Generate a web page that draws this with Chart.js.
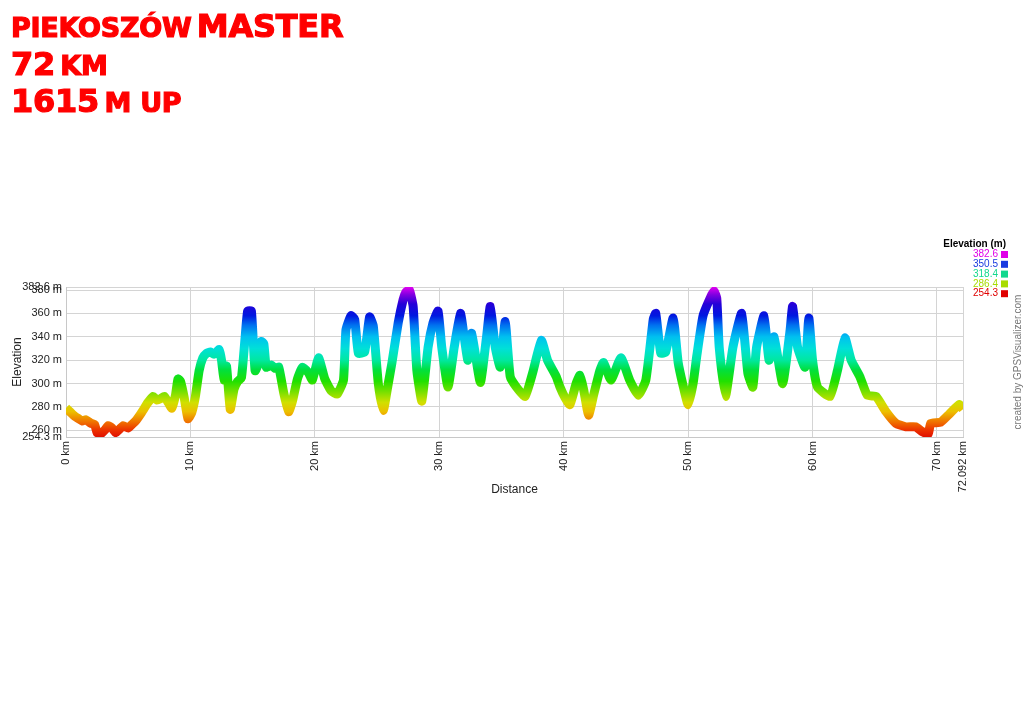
<!DOCTYPE html>
<html>
<head>
<meta charset="utf-8">
<script src="https://cdn.jsdelivr.net/npm/chart.js@4"></script>
<style>
    html, body { margin: 0; padding: 0; background: #fff; }
    #wrap { position: relative; width: 1024px; height: 723px; overflow: hidden; }
    #chart { position: absolute; left: 0; top: 0; }
    .title { position: absolute; left: 11px; color: #ff0000; font-family: "DejaVu Sans", sans-serif; font-weight: bold; line-height: 32px; white-space: nowrap; letter-spacing: -0.25px; -webkit-text-stroke: 1.2px #ff0000; }
    .big { font-size: 32px; }
    .small { font-size: 27px; }
</style>
</head>
<body>
<div id="wrap">
    <canvas id="chart" width="1024" height="723"></canvas>
    <div class="title" style="top:10px"><span class="small">PIEKOSZÓW</span> <span class="big">MASTER</span></div>
    <div class="title" style="top:48px"><span class="big">72</span> <span class="small">KM</span></div>
    <div class="title" style="top:85px"><span class="big">1615</span> <span class="small">M UP</span></div>
</div>
<script>
// profile samples
const distKm = [
    0.0, 0.3, 0.7, 1.0, 1.3, 1.6, 2.0, 2.3, 2.5, 2.8, 3.1, 3.4, 3.7, 4.0, 4.3, 4.6, 5.0, 5.3, 5.6, 6.0,
    6.3, 6.6, 7.0, 7.3, 7.6, 7.9, 8.2, 8.5, 8.8, 9.0, 9.2, 9.5, 9.8, 10.1, 10.4, 10.7, 11.0, 11.3, 11.6, 11.9,
    12.1, 12.3, 12.5, 12.7, 12.9, 13.2, 13.5, 13.8, 14.1, 14.4, 14.6, 14.9, 15.2, 15.5, 15.7, 15.9, 16.1, 16.5, 16.8, 17.1,
    17.5, 17.9, 18.2, 18.6, 19.0, 19.5, 19.8, 20.3, 20.8, 21.3, 21.8, 22.3, 22.5, 22.9, 23.2, 23.5, 24.0, 24.4, 24.7, 25.1,
    25.5, 25.9, 26.2, 26.7, 27.1, 27.3, 27.6, 27.9, 28.2, 28.6, 29.1, 29.5, 29.9, 30.2, 30.7, 31.2, 31.7, 32.0, 32.3, 32.6,
    33.3, 33.8, 34.1, 34.5, 34.9, 35.3, 35.7, 36.2, 36.9, 37.5, 38.2, 38.7, 39.4, 39.7, 40.1, 40.5, 41.0, 41.3, 41.6, 42.0,
    42.4, 42.9, 43.2, 43.8, 44.6, 45.3, 46.0, 46.6, 47.2, 47.4, 47.8, 48.2, 48.8, 49.2, 49.6, 50.0, 50.4, 50.7, 51.2, 51.9,
    52.1, 52.3, 52.5, 53.0, 53.6, 54.3, 54.8, 55.2, 55.5, 56.1, 56.5, 56.9, 57.6, 58.2, 58.4, 58.8, 59.4, 59.7, 60.0, 60.4,
    61.4, 62.0, 62.6, 63.1, 63.8, 64.4, 65.1, 65.9, 66.7, 67.5, 68.3, 68.8, 69.3, 69.5, 70.3, 71.0, 71.8, 72.092
];
const elevM = [
    279, 276, 272, 270, 268, 269, 266, 265, 258, 257, 260, 264, 262, 258, 261, 264, 262, 265, 268, 274,
    279, 284, 289, 286, 287, 289, 284, 279, 290, 304, 302, 288, 270, 275, 289, 311, 322, 326, 327, 325,
    327, 329, 320, 303, 315, 278, 295, 302, 305, 340, 362, 362, 311, 318, 336, 334, 314, 316, 313, 314,
    292, 276, 285, 304, 314, 309, 303, 322, 304, 294, 291, 303, 346, 358, 355, 326, 327, 357, 349, 300,
    277, 300, 318, 352, 372, 378, 380, 366, 311, 285, 331, 352, 362, 331, 297, 331, 360, 340, 320, 343,
    301, 340, 366, 331, 314, 353, 306, 297, 289, 309, 337, 320, 306, 297, 288, 282, 300, 307, 295, 273,
    290, 311, 318, 303, 322, 303, 290, 303, 355, 360, 326, 327, 356, 318, 298, 282, 300, 324, 358, 376,
    379, 373, 331, 289, 331, 360, 309, 297, 331, 358, 320, 340, 300, 346, 366, 331, 314, 356, 320, 297,
    289, 311, 339, 320, 306, 290, 289, 276, 266, 263, 263, 259, 257, 266, 267, 274, 282, 278
];

const elevMin = 254.3;
const elevMax = 382.6;
const yTicks = [254.3, 260, 280, 300, 320, 340, 360, 380, 382.6];
const xTicks = [0, 10, 20, 30, 40, 50, 60, 70, 72.092];
const legendLabels = ["382.6", "350.5", "318.4", "286.4", "254.3"];
const legendColors = ["#e000e8", "#1a3ae0", "#12d88e", "#a8dc00", "#e00000"];

// colour ramp: elevation -> colour
const rampElev = [254.3, 260, 267, 276, 284, 292, 302, 312, 320, 330, 340, 350, 358, 368, 376, 382.6];
const rampColor = ["#e01000", "#ec3000", "#f07000", "#ecc000", "#d0e000", "#80e000", "#20e000", "#00e040",
                   "#00e8a0", "#00e0d8", "#00c0f0", "#0070f0", "#0018e0", "#2400d8", "#8000e0", "#e000f0"];

let gradCache = null;
function lineGradient(context) {
    const chart = context.chart;
    const area = chart.chartArea;
    if (!area) return rampColor[0];
    const y = chart.scales.y;
    const y0 = y.getPixelForValue(elevMin);
    const y1 = y.getPixelForValue(elevMax);
    if (gradCache && gradCache.y0 === y0 && gradCache.y1 === y1) return gradCache.g;
    const g = chart.ctx.createLinearGradient(0, y0, 0, y1);
    rampElev.forEach((e, i) => {
        g.addColorStop((e - elevMin) / (elevMax - elevMin), rampColor[i]);
    });
    gradCache = { y0, y1, g };
    return g;
}

// legend block + credit line at the right edge
const sidePlugin = {
    id: "side",
    afterDraw(chart) {
        const ctx = chart.ctx;
        ctx.save();
        ctx.textBaseline = "middle";
        ctx.textAlign = "right";
        ctx.font = "bold 10px 'Liberation Sans', Arial, sans-serif";
        ctx.fillStyle = "#000";
        ctx.fillText("Elevation (m)", 1006, 244);
        ctx.font = "10px 'Liberation Sans', Arial, sans-serif";
        legendLabels.forEach((t, i) => {
            const cy = 254.5 + i * 9.8;
            ctx.fillStyle = legendColors[i];
            ctx.fillText(t, 998, cy);
            ctx.fillRect(1001, cy - 3.5, 7, 7);
        });
        ctx.translate(1018, 362);
        ctx.rotate(-Math.PI / 2);
        ctx.textAlign = "center";
        ctx.fillStyle = "#777";
        ctx.font = "10px 'Liberation Sans', Arial, sans-serif";
        ctx.fillText("created by GPSVisualizer.com", 0, 0);
        ctx.restore();
    }
};

const points = distKm.map((d, i) => ({ x: d, y: elevM[i] }));

new Chart(document.getElementById("chart"), {
    type: "line",
    data: {
        datasets: [{
            data: points,
            borderColor: lineGradient,
            borderWidth: 9,
            pointRadius: 0,
            tension: 0.15,
            fill: false,
            borderJoinStyle: "round",
            borderCapStyle: "butt"
        }]
    },
    options: {
        responsive: false,
        animation: false,
        devicePixelRatio: 1,
        layout: { padding: { left: 6, right: 61, top: 287, bottom: 222 } },
        plugins: { legend: { display: false }, tooltip: { enabled: false } },
        scales: {
            x: {
                type: "linear",
                min: 0,
                max: 72.092,
                afterBuildTicks: (scale) => { scale.ticks = xTicks.map(v => ({ value: v })); },
                afterFit: (scale) => { scale.height = 64; },
                ticks: {
                    autoSkip: false,
                    minRotation: 90,
                    maxRotation: 90,
                    padding: 4,
                    color: "#222",
                    font: { family: "'Liberation Sans', Arial, sans-serif", size: 11 },
                    callback: (v) => v + " km"
                },
                grid: { color: "#d4d4d4", drawTicks: false },
                border: { color: "#c8c8c8" },
                title: {
                    display: true,
                    text: "Distance",
                    color: "#222",
                    padding: { top: 0, bottom: 4 },
                    font: { family: "'Liberation Sans', Arial, sans-serif", size: 12 }
                }
            },
            y: {
                min: elevMin,
                max: elevMax,
                afterBuildTicks: (scale) => { scale.ticks = yTicks.map(v => ({ value: v })); },
                afterFit: (scale) => { scale.width = 60; },
                ticks: {
                    autoSkip: false,
                    padding: 4,
                    color: "#222",
                    font: { family: "'Liberation Sans', Arial, sans-serif", size: 11 },
                    callback: (v) => v + " m"
                },
                grid: { color: "#d4d4d4", drawTicks: false },
                border: { color: "#c8c8c8" },
                title: {
                    display: true,
                    text: "Elevation",
                    color: "#222",
                    padding: { top: 4, bottom: 0 },
                    font: { family: "'Liberation Sans', Arial, sans-serif", size: 12 }
                }
            }
        }
    },
    plugins: [sidePlugin]
});
</script>
</body>
</html>
